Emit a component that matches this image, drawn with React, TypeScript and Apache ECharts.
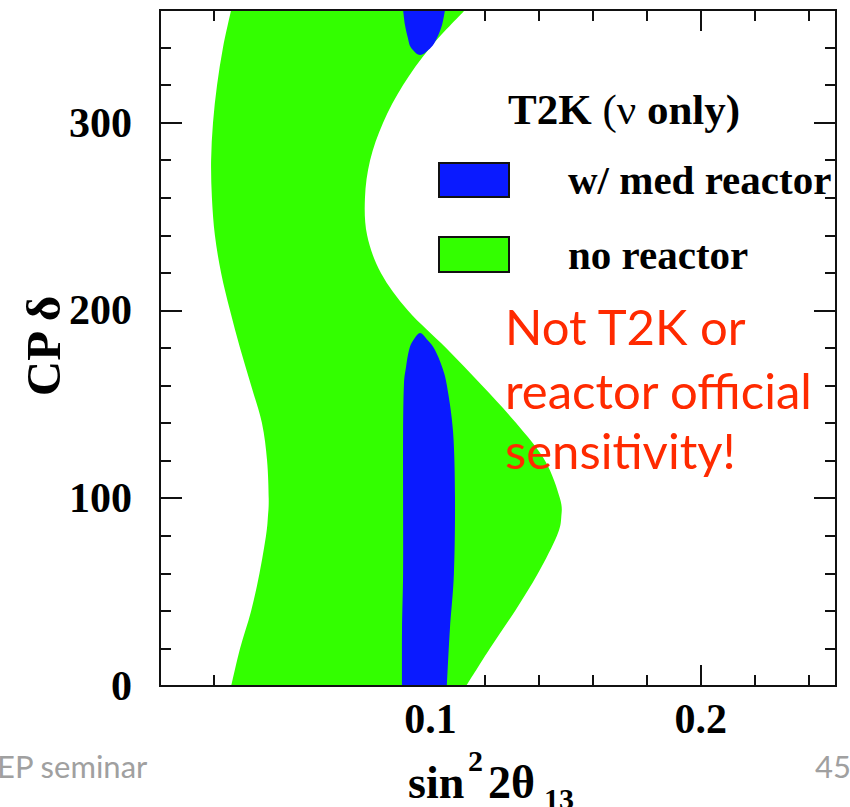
import React, { useEffect, useRef } from 'react';
import * as echarts from 'echarts';

// sin^2 2theta13 axis ticks and CP delta axis ticks
const xMin = 0;
const xMax = 0.25;
const xInterval = 0.1;
const yMin = 0;
const yMax = 360;
const yInterval = 100;

// "no reactor" (green) allowed region: left / right boundaries as a function of delta
const greenDelta = [0, 20, 40, 60, 80, 90, 100, 120, 140, 160, 180, 200, 220, 240, 260, 280, 300, 320, 340, 360];
const greenLeft = [0.0263, 0.0296, 0.0337, 0.0368, 0.0392, 0.0399, 0.0402, 0.0396, 0.0377, 0.0337, 0.0296, 0.0259, 0.0226, 0.0203, 0.0192, 0.0189, 0.0196, 0.0211, 0.0233, 0.0263];
const greenRight = [0.1132, 0.122, 0.1313, 0.1398, 0.1468, 0.1484, 0.1479, 0.1424, 0.1317, 0.1191, 0.1058, 0.0917, 0.0817, 0.0766, 0.0758, 0.0777, 0.0825, 0.0899, 0.0999, 0.1128];

// "w/ med reactor" (blue) lower island
const blueLowDelta = [0, 30, 60, 100, 135, 160, 170, 179, 184, 188];
const blueLowLeft = [0.0895, 0.0895, 0.0899, 0.0899, 0.0899, 0.0902, 0.091, 0.0921, 0.0936, 0.0962];
const blueLowRight = [0.1061, 0.1072, 0.1087, 0.1091, 0.1084, 0.1061, 0.1043, 0.1017, 0.0991, 0.0962];

// "w/ med reactor" (blue) upper island
const blueHighDelta = [360, 352, 345, 340, 336];
const blueHighLeft = [0.0899, 0.0906, 0.0917, 0.0928, 0.0962];
const blueHighRight = [0.1054, 0.1043, 0.1024, 0.1002, 0.0962];

const legendTitle = '{b|T2K }{n|(ν }{b|only)}';
const legendNames = ['w/ med reactor', 'no reactor'];
const noteLines = ['Not T2K or', 'reactor official', 'sensitivity!'];

const GREEN = '#33ff00';
const BLUE = '#0a1aff';
const RED = '#ff2a00';
const INK = '#111111';
const SERIF = '"Liberation Serif", "Times New Roman", serif';
const SANS = 'Lato, "Open Sans", sans-serif';

function curve(pts: number[][], move: boolean): string {
  let d = (move ? 'M' : 'L') + pts[0][0] + ',' + pts[0][1];
  for (let i = 0; i < pts.length - 1; i++) {
    const p0 = pts[i - 1] || pts[i];
    const p1 = pts[i];
    const p2 = pts[i + 1];
    const p3 = pts[i + 2] || p2;
    const c1x = p1[0] + (p2[0] - p0[0]) / 6;
    const c1y = p1[1] + (p2[1] - p0[1]) / 6;
    const c2x = p2[0] - (p3[0] - p1[0]) / 6;
    const c2y = p2[1] - (p3[1] - p1[1]) / 6;
    d += ' C' + c1x + ',' + c1y + ' ' + c2x + ',' + c2y + ' ' + p2[0] + ',' + p2[1];
  }
  return d;
}

function bandRender(xsL: number[], xsR: number[], ds: number[], fill: string) {
  return (_params: any, api: any) => {
    const left = xsL.map((x, i) => api.coord([x, ds[i]]));
    const right = xsR.map((x, i) => api.coord([x, ds[i]])).reverse();
    const d = curve(left, true) + ' ' + curve(right, false) + ' Z';
    return { type: 'path', shape: { pathData: d }, style: { fill, stroke: null } };
  };
}

function islandRender(xsL: number[], xsR: number[], ds: number[], fill: string) {
  return (_params: any, api: any) => {
    const left = xsL.map((x, i) => api.coord([x, ds[i]]));
    const right = xsR.map((x, i) => api.coord([x, ds[i]])).reverse();
    const chain = left.concat(right.slice(1));
    const d = curve(chain, true) + ' Z';
    return { type: 'path', shape: { pathData: d }, style: { fill, stroke: null } };
  };
}

const tickLabel = { fontFamily: SERIF, fontWeight: 'bold' as const, fontSize: 42, color: '#000' };

function mainX(position: 'bottom' | 'top', labels: boolean) {
  return {
    type: 'value', position, min: xMin, max: xMax, interval: xInterval,
    axisLine: { show: true, onZero: false, lineStyle: { color: INK, width: 2 } },
    axisTick: { show: true, inside: true, length: 21, lineStyle: { color: INK, width: 2 } },
    minorTick: { show: true, splitNumber: 5, length: 11, lineStyle: { color: INK, width: 2 } },
    splitLine: { show: false },
    axisLabel: labels
      ? { show: true, margin: 12, ...tickLabel, formatter: (v: number) => (v === 0 || v === xMax ? '' : v.toFixed(1)) }
      : { show: false },
  };
}

function mainY(position: 'left' | 'right', labels: boolean) {
  return {
    type: 'value', position, min: yMin, max: yMax, interval: yInterval,
    axisLine: { show: true, onZero: false, lineStyle: { color: INK, width: 2 } },
    axisTick: { show: true, inside: true, length: 22, lineStyle: { color: INK, width: 2 } },
    minorTick: { show: true, splitNumber: 5, length: 11, lineStyle: { color: INK, width: 2 } },
    splitLine: { show: false },
    axisLabel: labels
      ? { show: true, margin: 28, ...tickLabel, formatter: (v: number) => (v === yMax ? '' : String(v)) }
      : { show: false },
  };
}

function frameAxis(kind: 'x' | 'y', position: string) {
  return {
    type: 'value', position, min: kind === 'x' ? xMin : yMin, max: kind === 'x' ? xMax : yMax, z: 10,
    axisLine: { show: true, onZero: false, lineStyle: { color: INK, width: 2 } },
    axisTick: { show: false }, minorTick: { show: false }, splitLine: { show: false }, axisLabel: { show: false },
  };
}

export default function App() {
  const ref = useRef<HTMLDivElement>(null);
  useEffect(() => {
    document.body.style.margin = '0';
    const chart = echarts.init(ref.current!, null, { renderer: 'svg' });
    const option: any = {
      animation: false,
      backgroundColor: '#ffffff',
      grid: { left: 160, top: 10, width: 676, height: 676, containLabel: false },
      xAxis: [mainX('bottom', true), mainX('top', false), frameAxis('x', 'bottom'), frameAxis('x', 'top')],
      yAxis: [mainY('left', true), mainY('right', false), frameAxis('y', 'left'), frameAxis('y', 'right')],
      series: [
        {
          name: legendNames[1], type: 'custom', clip: true, xAxisIndex: 0, yAxisIndex: 0,
          itemStyle: { color: GREEN }, data: [[0.1, 180]],
          renderItem: bandRender(greenLeft, greenRight, greenDelta, GREEN),
        },
        {
          name: legendNames[0], type: 'custom', clip: true, xAxisIndex: 0, yAxisIndex: 0,
          itemStyle: { color: BLUE }, data: [[0.1, 100]],
          renderItem: islandRender(blueLowLeft, blueLowRight, blueLowDelta, BLUE),
        },
        {
          name: legendNames[0], type: 'custom', clip: true, xAxisIndex: 0, yAxisIndex: 0,
          itemStyle: { color: BLUE }, data: [[0.1, 350]],
          renderItem: islandRender(blueHighLeft, blueHighRight, blueHighDelta, BLUE),
        },
      ],
      graphic: [
        // Y axis title
        {
          type: 'text', x: 43, y: 346, rotation: Math.PI / 2, z: 20,
          style: { text: 'CP δ', fontFamily: SERIF, fontWeight: 'bold', fontSize: 49, fill: '#000', align: 'center', verticalAlign: 'middle' },
        },
        // X axis title sin^2 2θ_13
        { type: 'text', x: 408, y: 782, z: 20, style: { text: 'sin', fontFamily: SERIF, fontWeight: 'bold', fontSize: 46, fill: '#000', align: 'left', verticalAlign: 'middle' } },
        { type: 'text', x: 468, y: 760, z: 20, style: { text: '2', fontFamily: SERIF, fontWeight: 'bold', fontSize: 30, fill: '#000', align: 'left', verticalAlign: 'middle' } },
        { type: 'text', x: 488, y: 782, z: 20, style: { text: '2θ', fontFamily: SERIF, fontWeight: 'bold', fontSize: 46, fill: '#000', align: 'left', verticalAlign: 'middle' } },
        { type: 'text', x: 544, y: 798, z: 20, style: { text: '13', fontFamily: SERIF, fontWeight: 'bold', fontSize: 30, fill: '#000', align: 'left', verticalAlign: 'middle' } },
        // Legend
        {
          type: 'text', x: 508, y: 109, z: 20,
          style: {
            text: legendTitle, align: 'left', verticalAlign: 'middle',
            rich: {
              b: { fontFamily: SERIF, fontWeight: 'bold', fontSize: 43, fill: '#000' },
              n: { fontFamily: SERIF, fontWeight: 'normal', fontSize: 43, fill: '#000' },
            },
          },
        },
        { type: 'rect', z: 20, shape: { x: 439, y: 163, width: 70, height: 34 }, style: { fill: BLUE, stroke: INK, lineWidth: 2 } },
        { type: 'rect', z: 20, shape: { x: 439, y: 237, width: 70, height: 35 }, style: { fill: GREEN, stroke: INK, lineWidth: 2 } },
        { type: 'text', x: 568, y: 180, z: 20, style: { text: legendNames[0], fontFamily: SERIF, fontWeight: 'bold', fontSize: 41, fill: '#000', align: 'left', verticalAlign: 'middle' } },
        { type: 'text', x: 568, y: 255, z: 20, style: { text: legendNames[1], fontFamily: SERIF, fontWeight: 'bold', fontSize: 41, fill: '#000', align: 'left', verticalAlign: 'middle' } },
        // Red note
        ...noteLines.map((t, i) => ({
          type: 'text', x: 505, y: [326, 390, 450][i], z: 20,
          style: { text: t, fontFamily: SANS, fontSize: 49, fill: RED, align: 'left', verticalAlign: 'middle' },
        })),
        // Slide footer
        { type: 'text', x: -3, y: 766, z: 20, style: { text: 'EP seminar', fontFamily: SANS, fontSize: 31, fill: '#a0a0a0', align: 'left', verticalAlign: 'middle' } },
        { type: 'text', x: 851, y: 766, z: 20, style: { text: '45', fontFamily: SANS, fontSize: 31, fill: '#a0a0a0', align: 'right', verticalAlign: 'middle' } },
      ],
    };
    chart.setOption(option);
    return () => chart.dispose();
  }, []);
  return <div ref={ref} style={{ position: 'absolute', left: 0, top: 0, width: 850, height: 807 }} />;
}
